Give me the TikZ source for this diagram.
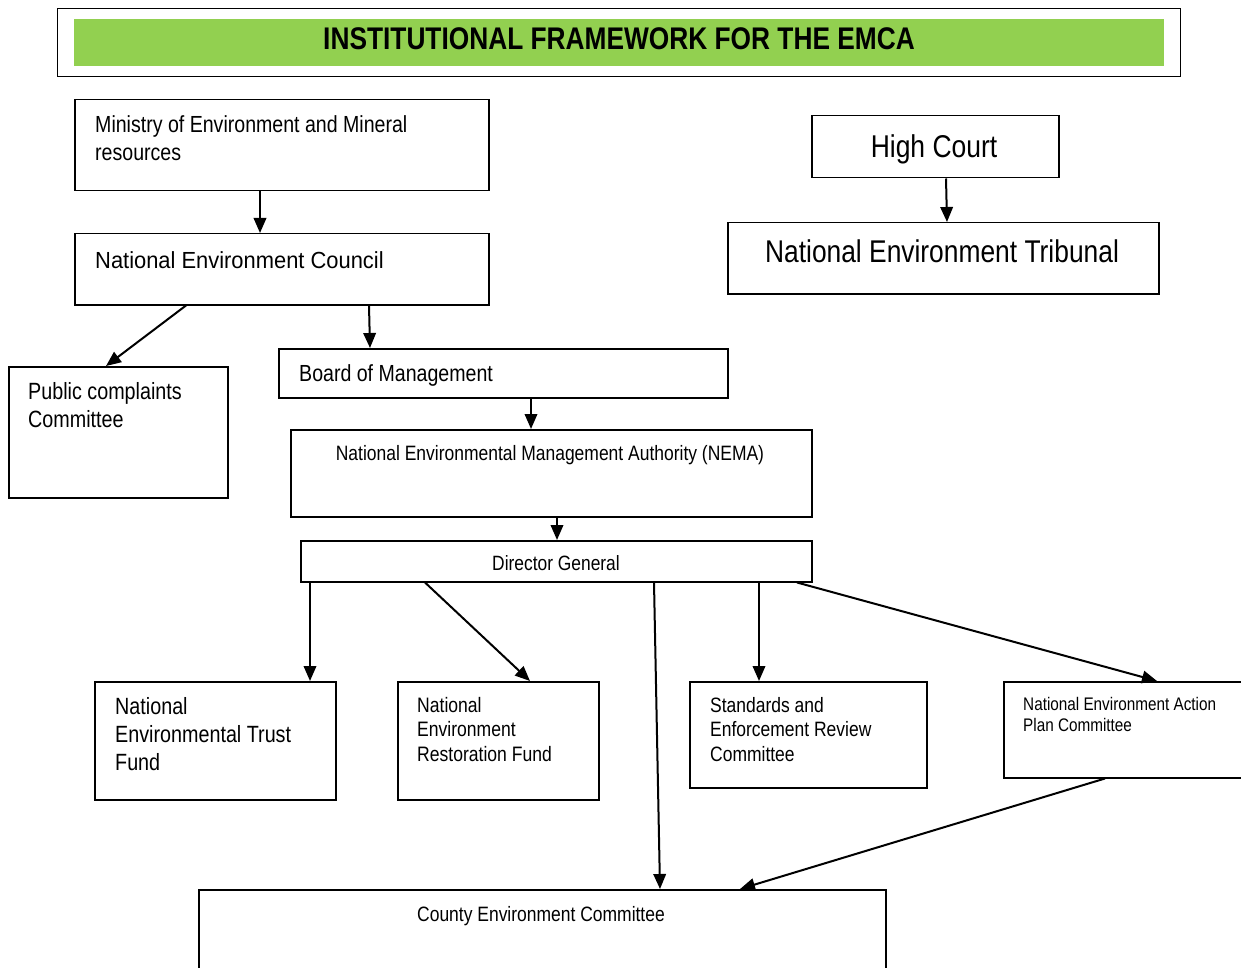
\documentclass[tikz,border=0pt]{standalone}
\usepackage{fontspec}
\setmainfont{Liberation Sans}[FakeStretch=0.84]
\newfontfamily\widerfont{Liberation Sans}[FakeStretch=0.94]
\usetikzlibrary{arrows.meta}
\definecolor{titlegreen}{HTML}{92D050}
\tikzset{
  box/.style={draw=black, line width=1.5pt, inner sep=0pt, anchor=north west},
  txt/.style={inner sep=0pt, anchor=north west, align=left},
  ctxt/.style={inner sep=0pt, anchor=north, align=center},
  conn/.style={line width=2pt, -{Triangle[length=15pt,width=12.5pt]}},
}
\newcommand{\fs}[2]{\fontsize{#1}{#2}\selectfont}
\begin{document}
\begin{tikzpicture}[x=1pt,y=-1pt]
\useasboundingbox (0,0) rectangle (1241,968);
% title
\node[box, minimum width=1123pt, minimum height=68pt, line width=1.3pt] (outer) at (57,8) {};
\node[anchor=north west, fill=titlegreen, minimum width=1090pt, minimum height=47pt, inner sep=0pt] (green) at (74,19) {};
\node[ctxt, font=\bfseries\fs{31.3}{36}] (title) at (619,27) {INSTITUTIONAL FRAMEWORK FOR THE EMCA};
% boxes
\node[box, minimum width=414pt, minimum height=91pt] (min) at (74,99) {};
\node[txt, font=\fs{23.3}{28}] (mint) at (95,115) {Ministry of Environment and Mineral\\resources};
\node[box, minimum width=414pt, minimum height=71pt] (nec) at (74,233) {};
\node[txt, font=\widerfont\fs{23.3}{28}] (nect) at (95,251) {National Environment Council};
\node[box, minimum width=247pt, minimum height=62pt] (hc) at (811,115) {};
\node[ctxt, font=\fs{31.5}{36}] (hct) at (934,134) {High Court};
\node[box, minimum width=431pt, minimum height=71pt] (net) at (727,222) {};
\node[ctxt, font=\fs{31.4}{36}] (nett) at (942,240) {National Environment Tribunal};
\node[box, minimum width=219pt, minimum height=131pt] (pub) at (8,366) {};
\node[txt, font=\fs{23.5}{28}] (pubt) at (28,382) {Public complaints\\Committee};
\node[box, minimum width=449pt, minimum height=49pt] (bom) at (278,348) {};
\node[txt, font=\fs{23.3}{28}] (bomt) at (299,364) {Board of Management};
\node[box, minimum width=521pt, minimum height=87pt] (nema) at (290,429) {};
\node[ctxt, font=\fs{20.8}{24}] (nemat) at (550,445) {National Environmental Management Authority (NEMA)};
\node[box, minimum width=511pt, minimum height=41pt] (dg) at (300,540) {};
\node[ctxt, font=\fs{20.7}{24}] (dgt) at (556,555) {Director General};
\node[box, minimum width=241pt, minimum height=118pt] (netf) at (94,681) {};
\node[txt, font=\fs{23.5}{28}] (netft) at (115,697) {National\\Environmental Trust\\Fund};
\node[box, minimum width=201pt, minimum height=118pt] (nerf) at (397,681) {};
\node[txt, font=\fs{20.9}{24.5}] (nerft) at (417,697) {National\\Environment\\Restoration Fund};
\node[box, minimum width=237pt, minimum height=106pt] (serc) at (689,681) {};
\node[txt, font=\fs{20.8}{24.5}] (serct) at (710,697) {Standards and\\Enforcement Review\\Committee};
\node[box, minimum width=260pt, minimum height=96pt] (neap) at (1003,681) {};
\node[txt, font=\fs{18.2}{21}] (neapt) at (1023,697) {National Environment Action\\Plan Committee};
\node[box, minimum width=687pt, minimum height=100pt] (cec) at (198,889) {};
\node[ctxt, font=\fs{20.8}{24}] (cect) at (541,906) {County Environment Committee};
% connectors
\draw[conn] ([xshift=186pt]min.south west) -- ([xshift=186pt]nec.north west);
\draw[conn] ([xshift=112pt]nec.south west) -- ([xshift=98pt]pub.north west);
\draw[conn] ([xshift=295pt]nec.south west) -- ([xshift=92pt]bom.north west);
\draw[conn] ([xshift=135pt]hc.south west) -- ([xshift=220pt]net.north west);
\draw[conn] ([xshift=253pt]bom.south west) -- ([xshift=241pt]nema.north west);
\draw[conn] ([xshift=267pt]nema.south west) -- ([xshift=257pt]dg.north west);
\draw[conn] ([xshift=10pt]dg.south west) -- ([xshift=216pt]netf.north west);
\draw[conn] ([xshift=125pt]dg.south west) -- ([xshift=133pt]nerf.north west);
\draw[conn] ([xshift=459pt]dg.south west) -- ([xshift=70pt]serc.north west);
\draw[conn] ([xshift=497pt]dg.south west) -- ([xshift=154pt]neap.north west);
\draw[conn] ([xshift=354pt]dg.south west) -- ([xshift=462pt]cec.north west);
\draw[conn] ([xshift=102pt]neap.south west) -- ([xshift=542pt]cec.north west);
\end{tikzpicture}
\end{document}
